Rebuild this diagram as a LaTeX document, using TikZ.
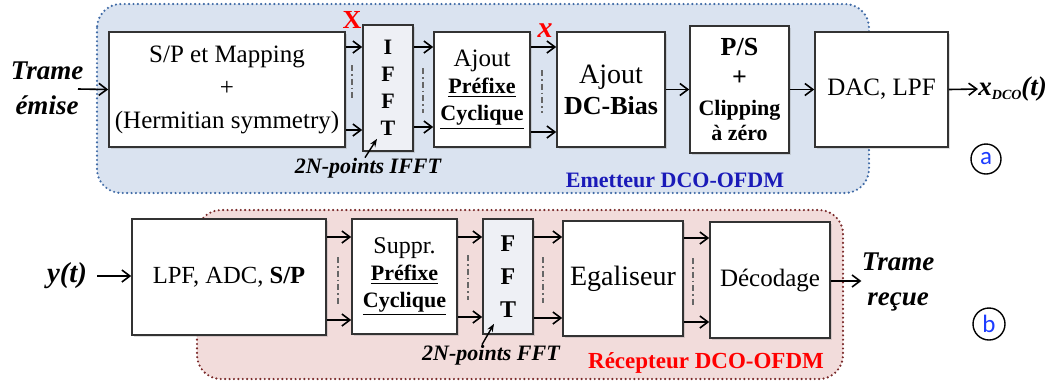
\documentclass[tikz,border=0pt]{standalone}
\usepackage{fontspec}
\setmainfont{Liberation Serif}
\newfontfamily\lblfont{Carlito}
\usetikzlibrary{arrows.meta, shadows, calc}
\definecolor{emBlue}{HTML}{DAE3F0}
\definecolor{emBorder}{HTML}{3F6AA6}
\definecolor{reRed}{HTML}{F2DCDB}
\definecolor{reBorder}{HTML}{7A2A2A}
\definecolor{fftGrey}{HTML}{EEF0F5}
\definecolor{txtBlue}{HTML}{1A1AB8}
\definecolor{txtRed}{HTML}{FF0000}
\definecolor{letBlue}{HTML}{1C3CFF}
\tikzset{
  blk/.style      = {draw=black!80, line width=0.8pt, fill=white, inner sep=0pt,
                     align=center, drop shadow={shadow xshift=1pt, shadow yshift=-1pt, opacity=0.25}},
  fftblk/.style   = {blk, fill=fftGrey},
  arr/.style      = {-{Straight Barb[length=4pt,width=6pt]}, line width=0.8pt},
  smallarr/.style = {-{Stealth[length=4pt,width=3pt]}, line width=0.7pt},
  dashdot/.style  = {black!60, line width=0.6pt, dash pattern=on 3pt off 1.5pt on 0.8pt off 1.5pt},
  zone/.style     = {line width=1.2pt, dash pattern=on 0pt off 2.2pt, line cap=round, rounded corners=12pt},
  iolbl/.style    = {font=\fontsize{13.5}{17.5}\selectfont\bfseries\itshape, align=center, inner sep=0pt},
  ptlbl/.style    = {font=\fontsize{11}{13}\selectfont\bfseries\itshape, inner sep=0pt},
  zonelbl/.style  = {font=\fontsize{11}{13}\selectfont\bfseries, inner sep=0pt},
  circlbl/.style  = {circle, draw, line width=0.7pt, minimum size=15pt, inner sep=0pt,
                     font=\lblfont\fontsize{12.5}{14}\selectfont, text=letBlue},
}
\begin{document}
\begin{tikzpicture}[x=0.5pt, y=-0.5pt]
  \useasboundingbox (0,0) rectangle (1054,387);
  % emitter and receiver zones
  \draw[zone, fill=emBlue, draw=emBorder] (97,4) rectangle (869,193);
  \draw[zone, fill=reRed, draw=reBorder] (197,210) rectangle (843,379);

  % emitter chain
  \node[blk, minimum width=118pt, minimum height=57.5pt, font=\fontsize{12.5}{16.5}\selectfont]
    (sp) at (227,89.5) {S/P et Mapping\\+\\(Hermitian symmetry)};
  \node[fftblk, minimum width=25pt, minimum height=63pt, font=\fontsize{11}{13.5}\selectfont\bfseries]
    (ifft) at (388,88) {I\\F\\F\\T};
  \node[blk, minimum width=48pt, minimum height=57.5pt, font=\fontsize{11}{13.5}\selectfont]
    (pcp) at (482,89.5) {{\fontsize{12.5}{13.5}\selectfont Ajout}\\\textbf{\underline{Préfixe}}\\\textbf{\underline{Cyclique}}};
  \node[blk, minimum width=54pt, minimum height=57.5pt, font=\fontsize{13}{15.5}\selectfont]
    (dcb) at (611,89.5) {{\fontsize{14}{15.5}\selectfont Ajout}\\\textbf{DC-Bias}};
  \node[blk, minimum width=49.5pt, minimum height=63.5pt, font=\fontsize{11}{12.5}\selectfont\bfseries]
    (ps) at (739.5,89.5) {{\fontsize{13}{12.5}\selectfont P/S}\\[2.5pt]{\fontsize{13}{12.5}\selectfont +}\\[2.5pt]Clipping\\à zéro};
  \node[blk, minimum width=66.5pt, minimum height=57.5pt, font=\fontsize{12.5}{15}\selectfont]
    (dac) at (881.5,89.5) {DAC, LPF};

  \node[iolbl] (trameA) at (47,88) {Trame\\émise};
  \coordinate (inA) at (78,89);
  \draw[arr] (inA) -- (sp.west);
  \foreach \a/\b/\ya/\yb in {sp/ifft/47/130, ifft/pcp/47/127, pcp/dcb/47/132} {
    \draw[arr] (\a.east |- 0,\ya) -- (\b.west |- 0,\ya);
    \draw[arr] (\a.east |- 0,\yb) -- (\b.west |- 0,\yb);
  }
  \foreach \x/\ya/\yb in {352/65/100, 423/68/113, 542/70/113}
    \draw[dashdot] (\x,\ya) -- (\x,\yb);
  \draw[arr] (dcb.east) -- (ps.west);
  \draw[arr] (ps.east) -- (dac.west);
  \node[anchor=west, inner sep=0pt, font=\fontsize{13.5}{16}\selectfont\bfseries\itshape]
    (xout) at (978,89) {x\raisebox{-0.35ex}{\fontsize{7}{8}\selectfont DCO}(t)};
  \draw[arr] (dac.east) -- (xout.west);

  \node[inner sep=0pt, font=\fontsize{13}{13}\selectfont\bfseries, text=txtRed] (bigX) at (352,20) {X};
  \node[inner sep=0pt, font=\fontsize{15}{15}\selectfont\bfseries\itshape, text=txtRed] (smallx) at (545,31) {x};

  \node[ptlbl] (ifftlbl) at (368,168) {2N-points IFFT};
  \draw[smallarr] ([xshift=-1.5pt]ifftlbl.north) -- ([xshift=-5.5pt, yshift=6.5pt]ifft.south);
  \node[zonelbl, text=txtBlue] (emlbl) at (675,180) {Emetteur DCO-OFDM};
  \node[circlbl] (ca) at (986,159) {a};

  % receiver chain
  \node[blk, minimum width=97pt, minimum height=58pt, font=\fontsize{12.3}{15}\selectfont]
    (lpf) at (229,277) {LPF, ADC, \textbf{S/P}};
  \node[blk, minimum width=52.5pt, minimum height=57.5pt, font=\fontsize{11}{13.5}\selectfont]
    (supp) at (404.5,276.5) {{\fontsize{12}{13.5}\selectfont Suppr.}\\\textbf{\underline{Préfixe}}\\\textbf{\underline{Cyclique}}};
  \node[fftblk, minimum width=25pt, minimum height=57.5pt, font=\fontsize{12}{16.5}\selectfont\bfseries]
    (fft) at (508,276.5) {F\\F\\T};
  \node[blk, minimum width=60pt, minimum height=57.5pt, font=\fontsize{14}{16}\selectfont]
    (egal) at (623,278.5) {Egaliseur};
  \node[blk, minimum width=60pt, minimum height=58pt, font=\fontsize{12.5}{15}\selectfont]
    (deco) at (770,280) {Décodage};

  \node[iolbl, font=\fontsize{14.4}{17}\selectfont\bfseries\itshape] (yin) at (67,276) {y(t)};
  \coordinate (inB) at (97,276);
  \draw[arr] (inB) -- (lpf.west |- inB);
  \foreach \a/\b/\ya/\yb in {lpf/supp/237/320, supp/fft/237/317, fft/egal/237/318, egal/deco/238/322} {
    \draw[arr] (\a.east |- 0,\ya) -- (\b.west |- 0,\ya);
    \draw[arr] (\a.east |- 0,\yb) -- (\b.west |- 0,\yb);
  }
  \foreach \x/\ya/\yb in {338/257/305, 468/255/300, 543/257/303, 693/258/307}
    \draw[dashdot] (\x,\ya) -- (\x,\yb);
  \node[iolbl] (trameB) at (898,282) {Trame\\reçue};
  \draw[arr] (deco.east |- 0,281) -- (trameB.west |- 0,281);

  \node[ptlbl] (fftlbl) at (491,355) {2N-points FFT};
  \draw[smallarr] ([xshift=-4.5pt]fftlbl.north) -- ([xshift=-7pt, yshift=5.5pt]fft.south);
  \node[zonelbl, font=\fontsize{11.5}{13}\selectfont\bfseries, text=txtRed] (relbl) at (706,363) {Récepteur DCO-OFDM};
  \node[circlbl, minimum size=16pt] (cb) at (989,324) {b};
\end{tikzpicture}
\end{document}
